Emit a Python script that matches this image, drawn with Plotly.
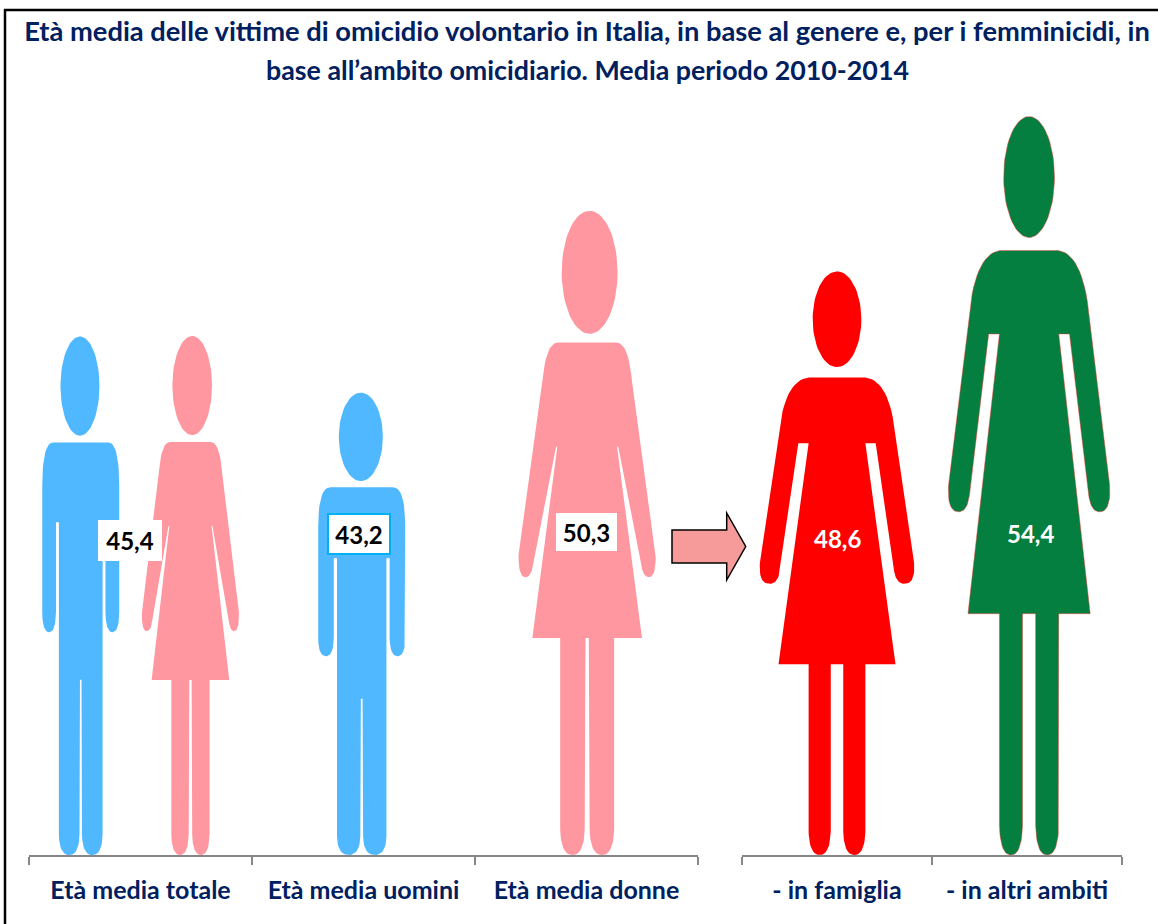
import numpy as np
import plotly.graph_objects as go

# ---------- data ----------
TITLE_LINE_1 = "Età media delle vittime di omicidio volontario in Italia, in base al genere e, per i femminicidi, in"
TITLE_LINE_2 = "base all’ambito omicidiario. Media periodo 2010-2014"
categories_left = ["Età media totale", "Età media uomini", "Età media donne"]
categories_right = ["- in famiglia", "- in altri ambiti"]
eta_totale = 45.4
eta_uomini = 43.2
eta_donne = 50.3
eta_famiglia = 48.6
eta_altri = 54.4

# ---------- style ----------
W, H = 1158, 924
NAVY = "#002060"
BLUE = "#4FB8FF"
PINK = "#FF97A0"
RED = "#FF0000"
GREEN = "#047F40"
GREY = "#868686"
FONT = "Lato"
AXIS_Y_PX, AXIS_TOP_PX = 855, 100
LEFT_DOM, RIGHT_DOM = (29, 698), (742, 1122)
LEFT_BASE, LEFT_PX_PER_UNIT = 25.08, 25.5
RIGHT_BASE, RIGHT_PX_PER_UNIT = 26.76, 26.7


def bez(p0, c, p1, n=14):
    t = np.linspace(0, 1, n)[1:]
    return [((1 - u) ** 2 * p0[0] + 2 * u * (1 - u) * c[0] + u ** 2 * p1[0],
             (1 - u) ** 2 * p0[1] + 2 * u * (1 - u) * c[1] + u ** 2 * p1[1]) for u in t]


def outline(spec):
    """spec: points; a 2-item list [ctrl, end] is a curve. Right half, mirrored to the left."""
    pts = [spec[0]]
    for s in spec[1:]:
        if isinstance(s, list):
            pts += bez(pts[-1], s[0], s[1])
        else:
            pts.append(s)
    mirrored = [(-x, y) for x, y in reversed(pts)]
    return pts + mirrored


def foot(outer, inner, lift=0.04):
    mid = (outer + inner) / 2
    return [(outer, lift), [(outer - 0.005, 0.0), (mid, 0.0)], [(inner + 0.005, 0.0), (inner, lift)]]


MAN = dict(
    head=(0.905, 0.0957, 0.253), head_dx=-0.01,
    body=outline([(0.36, 0.796), [(0.5, 0.796), (0.5, 0.71)], (0.5, 0.47),
                  [(0.5, 0.43), (0.41, 0.43)], [(0.325, 0.43), (0.321, 0.47)],
                  (0.321, 0.642), (0.284, 0.642)] + foot(0.284, 0.016) + [(0.010, 0.338)]),
)
DRESS_SOFT = dict(
    head=(0.906, 0.0957, 0.204), head_dx=0.018,
    body=outline([(0.21, 0.797), [(0.30, 0.797), (0.325, 0.74)], (0.5, 0.468),
                  [(0.505, 0.432), (0.45, 0.432)], [(0.405, 0.432), (0.392, 0.455)],
                  (0.227, 0.635), (0.218, 0.635), (0.40, 0.3375), (0.197, 0.3375)]
                 + foot(0.197, 0.018) + [(0.012, 0.3375)]),
)
DRESS_SHARP = dict(
    head=(0.9187, 0.082, 0.156), head_dx=0.0,
    body=outline([(0.18, 0.819), [(0.31, 0.815), (0.357, 0.751)], (0.494, 0.5016),
                  [(0.505, 0.465), (0.432, 0.465)], [(0.38, 0.465), (0.366, 0.487)],
                  (0.248, 0.706), (0.182, 0.706), (0.375, 0.327), (0.182, 0.327)]
                 + foot(0.182, 0.04) + [(0.04, 0.327)]),
)


def person(template, value, base, centre, width, color, xaxis, yaxis, edge=None):
    cy, ry, rx = template["head"]
    ang = np.linspace(0, 2 * np.pi, 72)
    hx = centre + width * (template["head_dx"] + rx * np.cos(ang))
    hn = cy + ry * np.sin(ang)
    bx = [centre + width * p[0] for p in template["body"]]
    bn = [p[1] for p in template["body"]]
    x = list(hx) + [None] + bx + [bx[0]]
    n = list(hn) + [None] + bn + [bn[0]]
    y = [None if v is None else base + v * (value - base) for v in n]
    line = dict(width=1, color=edge) if edge else dict(width=0, color=color)
    return go.Scatter(x=x, y=y, mode="lines", fill="toself", fillcolor=color, line=line,
                      xaxis=xaxis, yaxis=yaxis, showlegend=False, hoverinfo="skip")


fig = go.Figure()
# band units: 1 = one category; widths given in band units
LB, RB = (LEFT_DOM[1] - LEFT_DOM[0]) / 3, (RIGHT_DOM[1] - RIGHT_DOM[0]) / 2
fig.add_trace(person(MAN, eta_totale, LEFT_BASE, 0.232, 77 / LB, BLUE, "x", "y"))
fig.add_trace(person(DRESS_SOFT, eta_totale, LEFT_BASE, 0.724, 97 / LB, PINK, "x", "y"))
fig.add_trace(person(MAN, eta_uomini, LEFT_BASE, 1.492, 87 / LB, BLUE, "x", "y"))
fig.add_trace(person(DRESS_SOFT, eta_donne, LEFT_BASE, 2.503, 137 / LB, PINK, "x", "y"))
fig.add_trace(person(DRESS_SHARP, eta_famiglia, RIGHT_BASE, 0.5, 156 / RB, RED, "x2", "y2"))
fig.add_trace(person(DRESS_SHARP, eta_altri, RIGHT_BASE, 1.511, 163 / RB, GREEN, "x2", "y2",
                     edge="rgba(255,60,60,0.45)"))


def xdom(d):
    return [d[0] / W, d[1] / W]


def x_axis(dom, n, cats, anchor):
    return dict(domain=xdom(dom), range=[0, n], anchor=anchor, showgrid=False, zeroline=False,
                showline=True, linecolor=GREY, linewidth=2, fixedrange=True,
                tickmode="array", tickvals=[i + 0.5 for i in range(n)], ticktext=cats,
                ticks="outside", ticklen=0, tickwidth=0, ticklabelstandoff=12,
                tickfont=dict(family=FONT, size=25, color=NAVY, weight="bold"),
                minor=dict(tickmode="array", tickvals=list(range(n + 1)), ticks="outside",
                           ticklen=8, tickwidth=1.5, tickcolor=GREY, showgrid=False))


ydom = [(H - AXIS_Y_PX) / H, 1 - AXIS_TOP_PX / H]
span = AXIS_Y_PX - AXIS_TOP_PX
fig.update_layout(
    width=W, height=H, margin=dict(l=0, r=0, t=0, b=0),
    paper_bgcolor="white", plot_bgcolor="rgba(0,0,0,0)", showlegend=False,
    xaxis=x_axis(LEFT_DOM, 3, categories_left, "y"),
    xaxis2=x_axis(RIGHT_DOM, 2, categories_right, "y2"),
    yaxis=dict(domain=ydom, range=[LEFT_BASE, LEFT_BASE + span / LEFT_PX_PER_UNIT],
               visible=False, anchor="x", fixedrange=True),
    yaxis2=dict(domain=ydom, range=[RIGHT_BASE, RIGHT_BASE + span / RIGHT_PX_PER_UNIT],
                visible=False, anchor="x2", fixedrange=True),
    title=dict(text=TITLE_LINE_1, x=587 / W, xanchor="center", y=1 - 31 / H, yanchor="middle",
               font=dict(family=FONT, size=27.3, color=NAVY, weight="bold")),
)


def px(x):
    return x / W


def py(y):
    return 1 - y / H


def label(text, cx, cy, color="black", box=None, bw=None, bh=None):
    fig.add_annotation(xref="paper", yref="paper", x=px(cx), y=py(cy), text=f"<b>{text}</b>",
                       showarrow=False, xanchor="center", yanchor="middle",
                       font=dict(family=FONT, size=24, color=color),
                       bgcolor="white" if bw else None, width=bw, height=bh,
                       bordercolor=box, borderwidth=2 if box else 0, borderpad=0, align="center")


def fmt(v):
    return f"{v:.1f}".replace(".", ",")


fig.add_annotation(xref="paper", yref="paper", x=px(587), y=py(70), text=f"<b>{TITLE_LINE_2}</b>",
                   showarrow=False, xanchor="center", yanchor="middle",
                   font=dict(family=FONT, size=26.8, color=NAVY))
label(fmt(eta_totale), 130, 540.5, bw=64, bh=41)
label(fmt(eta_uomini), 359, 534, box="#00B0F0", bw=60, bh=38)
label(fmt(eta_donne), 586.5, 532, bw=61, bh=38)
label(fmt(eta_famiglia), 837, 538, color="white")
label(fmt(eta_altri), 1030, 533, color="white")

# frame and arrow
fig.add_shape(type="line", xref="paper", yref="paper", x0=px(5), x1=px(5), y0=0, y1=py(9),
              line=dict(color="black", width=2.5))
fig.add_shape(type="line", xref="paper", yref="paper", x0=px(4), x1=1, y0=py(10), y1=py(10),
              line=dict(color="black", width=2.5))
arrow = [(672, 530), (726.7, 530), (726.7, 513), (745.7, 546.5), (726.7, 580), (726.7, 563), (672, 563)]
path = "M " + " L ".join(f"{px(a):.5f} {py(b):.5f}" for a, b in arrow) + " Z"
fig.add_shape(type="path", xref="paper", yref="paper", path=path, fillcolor="#F79A9A",
              line=dict(color="black", width=1.5))

fig.write_html("out.html", config={"displayModeBar": False},
               post_script="document.body.style.margin='0';document.body.style.overflow='hidden';")
